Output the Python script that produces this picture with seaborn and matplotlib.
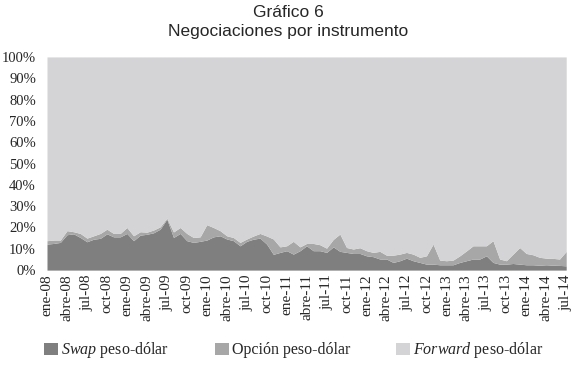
import matplotlib
matplotlib.use("Agg")
import matplotlib.pyplot as plt
import seaborn as sns
import numpy as np

# monthly shares (%), ene-08 .. jul-14
swap = [12.2, 12.5, 13.0, 16.6, 17.0, 15.3, 13.3, 14.5, 14.9, 17.0,
        15.6, 15.6, 17.2, 13.8, 16.4, 16.8, 17.5, 19.2, 23.9, 15.3,
        17.2, 13.8, 13.0, 13.5, 14.1, 15.6, 16.1, 14.6, 13.8, 11.4,
        13.5, 14.5, 15.0, 12.2, 7.4, 8.3, 9.1, 7.5, 9.1, 11.4,
        9.1, 9.1, 8.3, 10.9, 8.8, 8.3, 7.8, 7.8, 6.7, 6.3,
        5.2, 5.2, 3.6, 4.4, 5.6, 4.4, 3.6, 2.8, 2.8, 2.5,
        2.5, 2.5, 3.6, 4.4, 5.2, 5.2, 6.7, 3.6, 2.8, 2.8,
        3.1, 2.8, 2.5, 2.5, 2.3, 2.5, 2.3, 2.2, 2.0]
opcion = [1.6, 1.6, 1.1, 1.9, 1.0, 1.9, 1.7, 1.6, 2.3, 2.2,
          1.6, 1.6, 2.8, 2.3, 1.6, 1.0, 1.3, 1.1, 0.5, 2.6,
          2.8, 3.4, 2.3, 2.1, 7.2, 4.4, 2.4, 1.5, 1.5, 1.6,
          1.1, 1.5, 2.2, 3.8, 7.2, 2.6, 2.3, 6.0, 1.8, 1.1,
          3.4, 2.8, 2.0, 3.5, 8.1, 2.3, 2.1, 2.7, 2.4, 2.0,
          3.6, 1.8, 3.4, 3.1, 2.7, 3.1, 2.4, 3.9, 9.4, 2.2,
          1.9, 2.2, 3.1, 4.6, 6.2, 6.2, 4.7, 10.2, 2.4, 1.6,
          4.4, 7.8, 5.3, 4.7, 3.7, 3.1, 3.2, 3.0, 6.8]
forward = [86.2, 85.9, 85.9, 81.5, 82.0, 82.8, 85.0, 83.9, 82.8, 80.8,
           82.8, 82.8, 80.0, 83.9, 82.0, 82.2, 81.2, 79.7, 75.6, 82.1,
           80.0, 82.8, 84.7, 84.4, 78.7, 80.0, 81.5, 83.9, 84.7, 87.0,
           85.4, 84.0, 82.8, 84.0, 85.4, 89.1, 88.6, 86.5, 89.1, 87.5,
           87.5, 88.1, 89.7, 85.6, 83.1, 89.4, 90.1, 89.5, 90.9, 91.7,
           91.2, 93.0, 93.0, 92.5, 91.7, 92.5, 94.0, 93.3, 87.8, 95.3,
           95.6, 95.3, 93.3, 91.0, 88.6, 88.6, 88.6, 86.2, 94.8, 95.6,
           92.5, 89.4, 92.2, 92.8, 94.0, 94.4, 94.5, 94.8, 91.2]

tick_labels = ["ene-08", "abre-08", "jul-08", "oct-08",
               "ene-09", "abre-09", "jul-09", "oct-09",
               "ene-10", "abre-10", "jul-10", "oct-10",
               "ene-11", "abre-11", "jul-11", "oct-11",
               "ene-12", "abre-12", "jul-12", "oct-12",
               "ene-13", "abre-13", "jul-13", "oct-13",
               "ene-14", "abre-14", "jul-14"]
series_names = ["$\\it{Swap}$ peso-dólar", "Opción peso-dólar",
                "$\\it{Forward}$ peso-dólar"]
colors = ["#7f7f7f", "#a7a7a7", "#d4d4d6"]

sns.set_style("white")
plt.rcParams["font.family"] = ["Liberation Serif", "DejaVu Serif"]
plt.rcParams["mathtext.fontset"] = "custom"
plt.rcParams["mathtext.it"] = "Liberation Serif:italic"
plt.rcParams["mathtext.rm"] = "Liberation Serif"

x = np.arange(len(swap))

fig = plt.figure(figsize=(5.76, 3.65), dpi=100)
ax = fig.add_axes([0.0816, 0.260, 0.9014, 0.584])
polys = ax.stackplot(x, swap, opcion, forward, colors=colors,
                     labels=series_names, linewidth=0)

ax.set_xlim(0, len(swap) - 1)
ax.set_ylim(0, 100)
ax.set_yticks(np.arange(0, 101, 10))
ax.set_yticklabels([f"{v}%" for v in range(0, 101, 10)], fontsize=10.5)
ax.set_xticks(np.arange(0, len(swap), 3))
ax.set_xticklabels(tick_labels, rotation=90, fontsize=11)
ax.tick_params(axis="y", length=0, pad=8)
ax.tick_params(axis="x", length=0, pad=3)
sns.despine(ax=ax, left=True, bottom=True, top=True, right=True)

fig.text(0.5, 0.965, "Gráfico 6", ha="center", va="center",
         fontsize=12.5, family="Liberation Sans")
fig.text(0.5, 0.913, "Negociaciones por instrumento", ha="center",
         va="center", fontsize=12.5, family="Liberation Sans")

fig.legend(handles=polys, labels=series_names, loc="center",
           bbox_to_anchor=(0.51, 0.04), ncol=3, frameon=False,
           fontsize=11.5, handlelength=0.85, handleheight=0.85,
           handletextpad=0.2, columnspacing=2.9)

fig.savefig("out.png", dpi=100)
